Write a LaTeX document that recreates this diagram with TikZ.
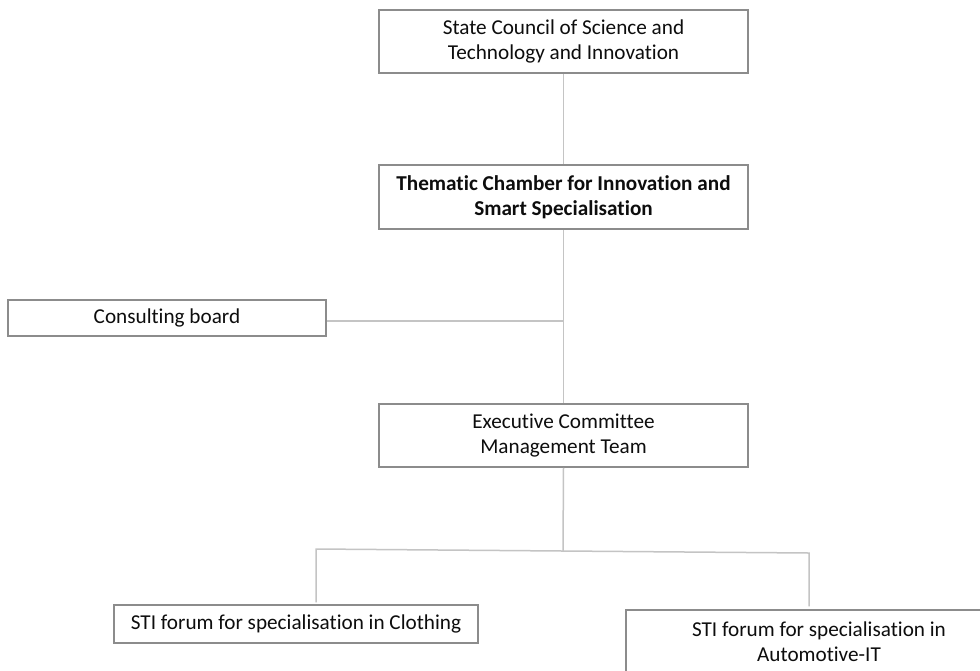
\documentclass[tikz,border=0pt]{standalone}
\usepackage{fontspec}
\setmainfont[Ligatures={NoCommon,NoRare,NoContextual}]{Carlito}
\definecolor{boxline}{HTML}{8C8C8C}
\definecolor{connline}{HTML}{C4C4C4}
\definecolor{txt}{HTML}{0D0D0D}
\begin{document}
\begin{tikzpicture}[x=0.5pt,y=-0.5pt,
  box/.style={draw=boxline,line width=0.75pt,fill=white,inner sep=0pt,align=center,
    text=txt,font=\fontsize{10.6pt}{12.5pt}\selectfont},
  conn/.style={draw=connline,line width=0.75pt}]
\useasboundingbox (0,0) rectangle (980,670);
\clip (0,0) rectangle (980,670);
\fill[white] (0,0) rectangle (980,670);
% nodes
\node[box,minimum width=184.5pt,minimum height=31.5pt] (b1) at (563.5,41.5)
  {State Council of Science and\\Technology and Innovation};
\node[box,minimum width=184.5pt,minimum height=32pt,font=\fontsize{10.6pt}{12.5pt}\selectfont\bfseries] (b2) at (563.5,197)
  {Thematic Chamber for Innovation and\\Smart Specialisation};
\node[box,minimum width=159pt,minimum height=18pt] (cb) at (167,318) {Consulting board};
\node[box,minimum width=184.5pt,minimum height=31.5pt] (b3) at (563.5,435.5)
  {Executive Committee\\Management Team};
\node[box,minimum width=182pt,minimum height=19pt] (clo) at (296,624)
  {STI forum for specialisation in Clothing};
\node[box,minimum width=193pt,minimum height=32pt] (aut) at (819,642)
  {STI forum for specialisation in\\Automotive-IT};
% junction coordinates
\coordinate (j1) at (563,321);
\coordinate (jM) at (563,551);
\coordinate (jL) at (316,549);
\coordinate (jR) at (809,553);
% connectors
\draw[conn] (b1.south) -- (b2.north);
\draw[conn] (b2.south) -- (b3.north);
\draw[conn] (j1) -- (j1 -| cb.east);
\draw[conn] (b3.south) -- (jM);
\draw[conn] ([yshift=1pt]clo.north -| jL) -- (jL) -- (jR) -- ([yshift=1.5pt]aut.north -| jR);
\end{tikzpicture}
\end{document}
